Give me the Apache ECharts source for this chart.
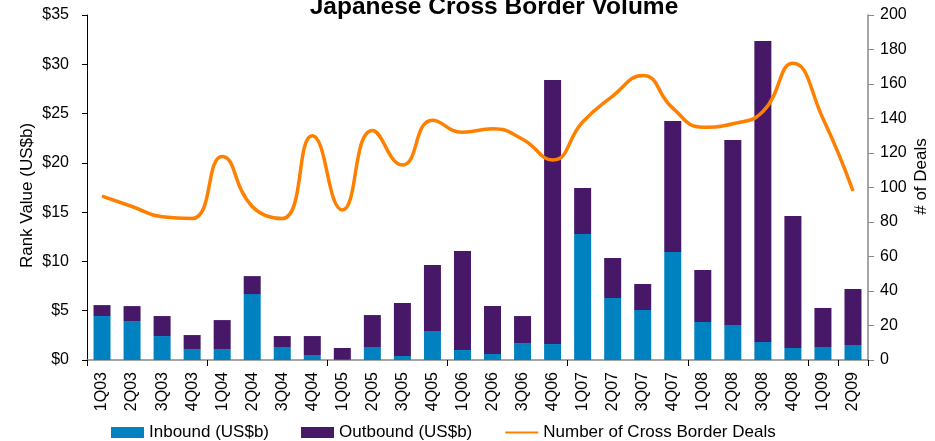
<!DOCTYPE html>
<html>
<head>
<meta charset="utf-8">
<script src="https://cdn.jsdelivr.net/npm/echarts@6/dist/echarts.min.js"></script>
<style>html,body{margin:0;padding:0;background:#fff}#c{width:935px;height:441px}</style>
</head>
<body>
<div id="c"></div>
<script>
const categories = ['1Q03','2Q03','3Q03','4Q03','1Q04','2Q04','3Q04','4Q04','1Q05','2Q05','3Q05','4Q05','1Q06','2Q06','3Q06','4Q06','1Q07','2Q07','3Q07','4Q07','1Q08','2Q08','3Q08','4Q08','1Q09','2Q09'];
const inbound = [4.46,3.95,2.43,1.11,1.11,6.69,1.32,0.51,0.03,1.32,0.41,2.94,1.01,0.61,1.72,1.62,12.78,6.29,5.07,10.96,3.86,3.55,1.83,1.22,1.32,1.52];
const outbound = [1.11,1.52,2.03,1.42,2.94,1.82,1.11,1.92,1.19,3.24,5.37,6.69,10.04,4.87,2.74,26.78,4.67,4.06,2.64,13.29,5.27,18.77,30.53,13.39,3.96,5.68];
const deals = [95,89,83,82,118,89,82,130,87,133,113,139,132,134,128,116,138,153,165,146,135,137,144,172,140,98];
const leftTicks = ['$0','$5','$10','$15','$20','$25','$30','$35'];

const font = 'Liberation Sans, Arial, sans-serif';
const chart = echarts.init(document.getElementById('c'), null, {renderer:'canvas'});
chart.setOption({
  animation:false,
  textStyle:{fontFamily:font},
  title:{text:'Japanese Cross Border Volume', left:489, textAlign:'center', top:-10,
    textStyle:{fontSize:24.5, fontWeight:'bold', color:'#000', fontFamily:font}},
  legend:{bottom:-5, left:106, itemGap:32, itemWidth:33, itemHeight:11,
    textStyle:{fontSize:17, color:'#000', fontFamily:font},
    data:[{name:'Inbound (US$b)', icon:'rect'},{name:'Outbound (US$b)', icon:'rect'},
          {name:'Number of Cross Border Deals', itemStyle:{opacity:0}}]},
  grid:{left:87, right:67, top:15, bottom:81, containLabel:false, outerBoundsMode:'none'},
  xAxis:{type:'category', data:categories, boundaryGap:true,
    axisLine:{lineStyle:{color:'#888', width:1.5}},
    axisTick:{show:true, interval:3, length:6, lineStyle:{color:'#000'}},
    axisLabel:{rotate:90, fontSize:16, color:'#000', interval:0, margin:12, fontFamily:font}},
  yAxis:[
    {type:'value', min:0, max:35, interval:5, position:'left',
     name:'Rank Value (US$b)', nameLocation:'middle', nameGap:51, nameRotate:90, nameMoveOverlap:false,
     nameTextStyle:{fontSize:17, color:'#000', fontFamily:font, padding:[0,16,0,0]},
     axisLine:{show:true, lineStyle:{color:'#000'}},
     axisTick:{show:true, length:5, lineStyle:{color:'#000'}},
     splitLine:{show:false},
     axisLabel:{fontSize:16, color:'#000', margin:18, formatter:(v)=>leftTicks[Math.round(v/5)]}},
    {type:'value', min:0, max:200, interval:20, position:'right',
     name:'# of Deals', nameLocation:'middle', nameGap:45, nameRotate:90, nameMoveOverlap:false,
     nameTextStyle:{fontSize:17, color:'#000', fontFamily:font, padding:[0,0,0,22]},
     axisLine:{show:true, lineStyle:{color:'#888', width:1.5}},
     axisTick:{show:true, length:6, lineStyle:{color:'#888'}},
     splitLine:{show:false},
     axisLabel:{fontSize:16, color:'#000', margin:12}}
  ],
  series:[
    {name:'Inbound (US$b)', type:'bar', stack:'v', data:inbound, barWidth:17, itemStyle:{color:'#0082C0'}},
    {name:'Outbound (US$b)', type:'bar', stack:'v', data:outbound, barWidth:17, itemStyle:{color:'#471768'}},
    {name:'Number of Cross Border Deals', type:'line', yAxisIndex:1, data:deals, smooth:0.5,
     symbol:'none', lineStyle:{color:'#FF8000', width:3.5}, itemStyle:{color:'#FF8000'}}
  ]
});
</script>
</body>
</html>
